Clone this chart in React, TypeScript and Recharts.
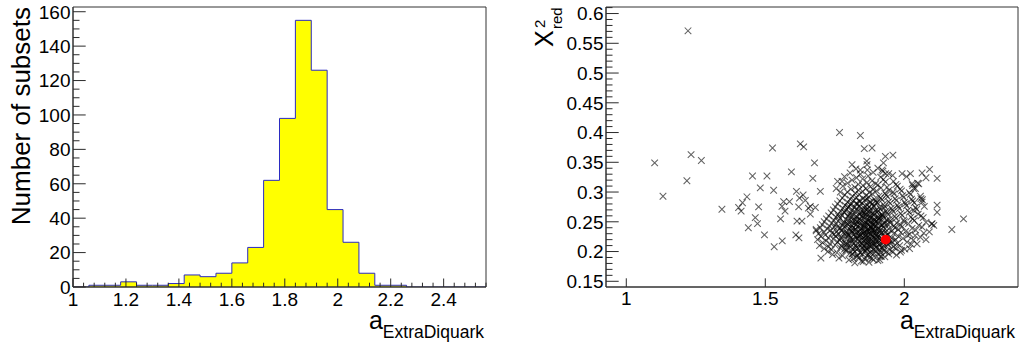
import React from 'react';
import {
  ComposedChart,
  Area,
  ScatterChart,
  Scatter,
  XAxis,
  YAxis,
  ReferenceArea,
} from 'recharts';

const FONT = '"Liberation Sans", Arial, Helvetica, sans-serif';

// histogram of the fitted parameter: lower bin edges + counts
const BIN_EDGES = [
  1.0, 1.06, 1.12, 1.18, 1.24, 1.3, 1.36, 1.42, 1.48, 1.54, 1.6, 1.66, 1.72,
  1.78, 1.84, 1.9, 1.96, 2.02, 2.08, 2.14, 2.2, 2.26, 2.32, 2.38, 2.44, 2.5,
];
const BIN_UPPER = 2.56;
const BIN_COUNTS = [
  0, 1, 1, 3, 1, 1, 2, 7, 6, 8, 14, 23, 62, 98, 155, 126, 45, 26, 8, 1, 1, 0,
  0, 0, 0, 0,
];

// scatter: [a_ExtraDiquark, chi2_red] per subset
const SPREAD_POINTS: [number, number][] = [
  [1.102, 0.349], [1.132, 0.293], [1.222, 0.571], [1.218, 0.319], [1.233, 0.363], [1.27, 0.353],
  [1.344, 0.271], [1.404, 0.274], [1.418, 0.282], [1.434, 0.292], [1.413, 0.268], [1.439, 0.24],
  [1.454, 0.327], [1.464, 0.257], [1.472, 0.247], [1.476, 0.275], [1.482, 0.307], [1.497, 0.228],
  [1.506, 0.327], [1.526, 0.374], [1.53, 0.303], [1.532, 0.208], [1.561, 0.218], [1.555, 0.255],
  [1.56, 0.276], [1.566, 0.284], [1.571, 0.268], [1.587, 0.284], [1.594, 0.334], [1.612, 0.301],
  [1.614, 0.251], [1.61, 0.228], [1.621, 0.223], [1.626, 0.381], [1.638, 0.376], [1.623, 0.29],
  [1.636, 0.295], [1.644, 0.286], [1.62, 0.275], [1.632, 0.251], [1.655, 0.273], [1.662, 0.276],
  [1.68, 0.274], [1.677, 0.349], [1.671, 0.323], [1.698, 0.301], [1.683, 0.237], [1.662, 0.263],
  [1.7, 0.189], [1.767, 0.4], [1.842, 0.395], [1.776, 0.318], [1.755, 0.306], [1.77, 0.3],
  [1.812, 0.346], [1.866, 0.346], [1.842, 0.337], [1.856, 0.373], [1.884, 0.374], [1.92, 0.337],
  [1.932, 0.36], [1.944, 0.331], [1.959, 0.362], [1.923, 0.335], [1.992, 0.331], [2.022, 0.331],
  [2.064, 0.332], [2.091, 0.338], [2.118, 0.323], [2.028, 0.314], [2.052, 0.314], [2.034, 0.306],
  [2.118, 0.278], [2.118, 0.266], [2.213, 0.255], [2.171, 0.237], [2.078, 0.22], [2.1, 0.247],
  [2.106, 0.244], [2.064, 0.283], [2.06, 0.289], [2.034, 0.269], [2.019, 0.205], [1.986, 0.199],
  [2.039, 0.227],
];

const CORE_POINTS: [number, number][] = [
  [1.822, 0.181], [1.845, 0.184], [1.873, 0.182], [1.905, 0.185],
  [1.765, 0.189], [1.801, 0.186], [1.836, 0.19], [1.858, 0.187], [1.884, 0.189], [1.912, 0.186], [1.93, 0.191],
  [1.742, 0.195], [1.778, 0.193], [1.812, 0.196], [1.829, 0.192], [1.851, 0.195], [1.866, 0.193], [1.892, 0.197],
  [1.918, 0.192], [1.944, 0.196], [1.972, 0.194],
  [1.725, 0.2], [1.758, 0.198], [1.789, 0.201], [1.804, 0.197], [1.823, 0.2], [1.842, 0.198], [1.861, 0.202],
  [1.877, 0.199], [1.898, 0.201], [1.915, 0.198], [1.936, 0.2], [1.958, 0.199], [1.99, 0.202],
  [1.712, 0.205], [1.738, 0.203], [1.77, 0.206], [1.785, 0.204], [1.797, 0.207], [1.815, 0.203], [1.833, 0.205],
  [1.848, 0.207], [1.864, 0.204], [1.871, 0.206], [1.889, 0.203], [1.903, 0.206], [1.922, 0.205], [1.948, 0.203],
  [1.967, 0.206], [2.002, 0.204],
  [1.695, 0.21], [1.728, 0.208], [1.751, 0.211], [1.774, 0.209], [1.792, 0.212], [1.808, 0.208], [1.826, 0.21],
  [1.839, 0.212], [1.855, 0.209], [1.868, 0.211], [1.88, 0.208], [1.894, 0.21], [1.909, 0.212], [1.927, 0.209],
  [1.941, 0.211], [1.961, 0.208], [1.983, 0.21], [2.025, 0.212],
  [1.706, 0.215], [1.733, 0.213], [1.76, 0.216], [1.779, 0.214], [1.796, 0.213], [1.811, 0.216], [1.82, 0.214],
  [1.837, 0.217], [1.85, 0.213], [1.862, 0.215], [1.876, 0.217], [1.887, 0.214], [1.899, 0.216], [1.912, 0.213],
  [1.925, 0.215], [1.952, 0.217], [1.975, 0.214], [2.01, 0.216], [2.046, 0.213],
  [1.688, 0.22], [1.719, 0.218], [1.745, 0.221], [1.768, 0.219], [1.787, 0.222], [1.802, 0.218], [1.818, 0.22],
  [1.831, 0.222], [1.845, 0.219], [1.858, 0.221], [1.869, 0.218], [1.882, 0.22], [1.895, 0.222], [1.906, 0.219],
  [1.92, 0.221], [1.946, 0.218], [1.969, 0.22], [1.995, 0.222], [2.032, 0.219],
  [1.7, 0.225], [1.727, 0.223], [1.752, 0.226], [1.772, 0.224], [1.79, 0.227], [1.806, 0.223], [1.823, 0.225],
  [1.834, 0.227], [1.848, 0.224], [1.86, 0.226], [1.873, 0.223], [1.885, 0.225], [1.898, 0.227], [1.911, 0.224],
  [1.93, 0.226], [1.955, 0.223], [1.98, 0.225], [2.012, 0.227], [2.058, 0.224],
  [1.692, 0.23], [1.716, 0.228], [1.74, 0.231], [1.763, 0.229], [1.781, 0.232], [1.799, 0.228], [1.814, 0.23],
  [1.828, 0.232], [1.841, 0.229], [1.853, 0.231], [1.866, 0.228], [1.878, 0.23], [1.89, 0.232], [1.903, 0.229],
  [1.917, 0.231], [1.938, 0.228], [1.962, 0.23], [1.988, 0.232], [2.02, 0.229], [2.07, 0.231],
  [1.683, 0.235], [1.71, 0.233], [1.735, 0.236], [1.757, 0.234], [1.776, 0.237], [1.793, 0.233], [1.809, 0.235],
  [1.825, 0.237], [1.838, 0.234], [1.851, 0.236], [1.863, 0.233], [1.874, 0.235], [1.886, 0.237], [1.899, 0.234],
  [1.913, 0.236], [1.933, 0.233], [1.957, 0.235], [1.978, 0.237], [2.005, 0.234], [2.041, 0.236], [2.09, 0.233],
  [1.698, 0.24], [1.724, 0.238], [1.748, 0.241], [1.769, 0.239], [1.786, 0.242], [1.803, 0.238], [1.817, 0.24],
  [1.832, 0.242], [1.846, 0.239], [1.857, 0.241], [1.87, 0.238], [1.881, 0.24], [1.893, 0.242], [1.907, 0.239],
  [1.924, 0.241], [1.944, 0.238], [1.966, 0.24], [1.993, 0.242], [2.028, 0.239], [2.064, 0.241],
  [1.705, 0.245], [1.731, 0.243], [1.755, 0.246], [1.778, 0.244], [1.795, 0.247], [1.812, 0.243], [1.827, 0.245],
  [1.84, 0.247], [1.854, 0.244], [1.867, 0.246], [1.879, 0.243], [1.891, 0.245], [1.904, 0.247], [1.921, 0.244],
  [1.94, 0.246], [1.962, 0.243], [1.985, 0.245], [2.015, 0.247], [2.052, 0.244], [2.098, 0.246],
  [1.712, 0.25], [1.739, 0.248], [1.762, 0.251], [1.783, 0.249], [1.8, 0.252], [1.816, 0.248], [1.83, 0.25],
  [1.844, 0.252], [1.859, 0.249], [1.872, 0.251], [1.884, 0.248], [1.897, 0.25], [1.91, 0.252], [1.928, 0.249],
  [1.949, 0.251], [1.973, 0.248], [2.0, 0.25], [2.036, 0.252], [2.078, 0.249],
  [1.72, 0.255], [1.746, 0.253], [1.77, 0.256], [1.79, 0.254], [1.808, 0.257], [1.824, 0.253], [1.839, 0.255],
  [1.853, 0.257], [1.866, 0.254], [1.88, 0.256], [1.893, 0.253], [1.908, 0.255], [1.925, 0.257], [1.946, 0.254],
  [1.97, 0.256], [1.998, 0.253], [2.03, 0.255], [2.068, 0.257],
  [1.728, 0.26], [1.754, 0.258], [1.776, 0.261], [1.797, 0.259], [1.814, 0.262], [1.83, 0.258], [1.846, 0.26],
  [1.861, 0.262], [1.876, 0.259], [1.89, 0.261], [1.905, 0.258], [1.922, 0.26], [1.942, 0.262], [1.966, 0.259],
  [1.992, 0.261], [2.024, 0.258], [2.06, 0.26],
  [1.737, 0.265], [1.762, 0.263], [1.785, 0.266], [1.805, 0.264], [1.822, 0.267], [1.838, 0.263], [1.855, 0.265],
  [1.87, 0.267], [1.885, 0.264], [1.901, 0.266], [1.918, 0.263], [1.938, 0.265], [1.96, 0.267], [1.987, 0.264],
  [2.018, 0.266], [2.05, 0.263],
  [1.745, 0.27], [1.771, 0.268], [1.793, 0.271], [1.812, 0.269], [1.829, 0.272], [1.847, 0.268], [1.863, 0.27],
  [1.88, 0.272], [1.897, 0.269], [1.914, 0.271], [1.934, 0.268], [1.957, 0.27], [1.982, 0.272], [2.012, 0.269],
  [2.045, 0.271],
  [1.752, 0.275], [1.779, 0.273], [1.801, 0.276], [1.82, 0.274], [1.838, 0.277], [1.856, 0.273], [1.873, 0.275],
  [1.891, 0.277], [1.91, 0.274], [1.93, 0.276], [1.953, 0.273], [1.979, 0.275], [2.008, 0.277], [2.04, 0.274],
  [2.072, 0.276],
  [1.76, 0.28], [1.787, 0.278], [1.809, 0.281], [1.829, 0.279], [1.848, 0.282], [1.866, 0.278], [1.884, 0.28],
  [1.903, 0.282], [1.925, 0.279], [1.949, 0.281], [1.975, 0.278], [2.004, 0.28], [2.036, 0.282],
  [1.768, 0.285], [1.796, 0.283], [1.818, 0.286], [1.84, 0.284], [1.86, 0.287], [1.879, 0.283], [1.898, 0.285],
  [1.92, 0.287], [1.944, 0.284], [1.971, 0.286], [2.001, 0.283], [2.03, 0.285], [2.065, 0.287],
  [1.777, 0.29], [1.805, 0.288], [1.828, 0.291], [1.851, 0.289], [1.872, 0.292], [1.892, 0.288], [1.915, 0.29],
  [1.94, 0.292], [1.967, 0.289], [1.997, 0.291], [2.026, 0.288],
  [1.786, 0.295], [1.814, 0.293], [1.838, 0.296], [1.862, 0.294], [1.885, 0.297], [1.909, 0.293], [1.935, 0.295],
  [1.963, 0.297], [1.994, 0.294], [2.022, 0.296], [2.058, 0.293],
  [1.795, 0.3], [1.824, 0.298], [1.85, 0.301], [1.874, 0.299], [1.9, 0.302], [1.93, 0.298], [1.96, 0.3],
  [1.99, 0.302], [2.018, 0.299],
  [1.808, 0.305], [1.836, 0.303], [1.862, 0.306], [1.888, 0.304], [1.916, 0.307], [1.945, 0.303], [1.985, 0.305],
  [2.04, 0.306],
  [1.779, 0.31], [1.822, 0.308], [1.851, 0.311], [1.878, 0.309], [1.905, 0.312], [1.938, 0.308], [1.975, 0.31],
  [2.03, 0.311],
  [1.796, 0.315], [1.835, 0.313], [1.866, 0.316], [1.897, 0.314], [1.932, 0.317], [1.97, 0.313], [2.048, 0.315],
  [1.76, 0.318], [1.812, 0.32], [1.85, 0.322], [1.884, 0.319], [1.925, 0.321], [1.961, 0.318],
  [1.785, 0.326], [1.828, 0.324], [1.87, 0.327], [1.915, 0.325], [1.958, 0.328], [2.008, 0.326], [2.078, 0.324],
  [1.805, 0.332], [1.842, 0.33], [1.888, 0.333], [1.933, 0.331],
  [1.826, 0.339], [1.867, 0.337], [1.905, 0.34],
  [1.865, 0.352], [1.925, 0.349],
];

// extra subsets inside the darkest part of the cloud
const DENSE_POINTS: [number, number][] = [
  [1.781, 0.247], [1.794, 0.231], [1.803, 0.262], [1.811, 0.219], [1.817, 0.253], [1.824, 0.238], [1.829, 0.207],
  [1.833, 0.268], [1.838, 0.226], [1.843, 0.244], [1.847, 0.213], [1.851, 0.259], [1.856, 0.233], [1.859, 0.201],
  [1.862, 0.249], [1.865, 0.222], [1.868, 0.271], [1.871, 0.238], [1.874, 0.211], [1.877, 0.256], [1.879, 0.229],
  [1.882, 0.197], [1.885, 0.245], [1.888, 0.218], [1.891, 0.264], [1.894, 0.236], [1.897, 0.207], [1.901, 0.251],
  [1.904, 0.224], [1.908, 0.241], [1.912, 0.203], [1.916, 0.258], [1.919, 0.231], [1.923, 0.215], [1.928, 0.247],
  [1.934, 0.226], [1.789, 0.214], [1.797, 0.274], [1.806, 0.241], [1.814, 0.196], [1.821, 0.229], [1.827, 0.281],
  [1.835, 0.252], [1.84, 0.198], [1.846, 0.265], [1.853, 0.242], [1.858, 0.277], [1.863, 0.206], [1.867, 0.233],
  [1.872, 0.262], [1.876, 0.19], [1.881, 0.251], [1.886, 0.227], [1.89, 0.275], [1.895, 0.213], [1.899, 0.243],
  [1.906, 0.268], [1.911, 0.232], [1.914, 0.192], [1.921, 0.262], [1.926, 0.201], [1.931, 0.238], [1.937, 0.253],
  [1.942, 0.212], [1.775, 0.235], [1.784, 0.266], [1.792, 0.203], [1.799, 0.245], [1.807, 0.278], [1.813, 0.234],
  [1.819, 0.207], [1.826, 0.259], [1.832, 0.221], [1.837, 0.285], [1.842, 0.236], [1.849, 0.205], [1.854, 0.268],
  [1.857, 0.247], [1.861, 0.227], [1.866, 0.288], [1.87, 0.216], [1.873, 0.245], [1.878, 0.268], [1.883, 0.21],
  [1.887, 0.236], [1.892, 0.255], [1.896, 0.229], [1.9, 0.282], [1.905, 0.196], [1.91, 0.257], [1.915, 0.219],
  [1.92, 0.245], [1.927, 0.273], [1.94, 0.229], [1.95, 0.248], [1.957, 0.216], [1.764, 0.259], [1.771, 0.222],
  [1.758, 0.241], [1.748, 0.229], [1.816, 0.188], [1.852, 0.183], [1.889, 0.186], [1.869, 0.195], [1.833, 0.193],
  [1.801, 0.227], [1.844, 0.228], [1.879, 0.24], [1.863, 0.258], [1.828, 0.246], [1.898, 0.22], [1.855, 0.218],
  [1.84, 0.276], [1.808, 0.251], [1.875, 0.283], [1.918, 0.207],
];

const BEST_FIT: [number, number] = [1.933, 0.22];

const HIST_X_DOMAIN: [number, number] = [1.0, 2.56];
const HIST_Y_DOMAIN: [number, number] = [0, 162.75];
const SCAT_X_DOMAIN: [number, number] = [0.927, 2.409];
const SCAT_Y_DOMAIN: [number, number] = [0.1404, 0.611];

const steps = (from: number, to: number, step: number) => {
  const out: number[] = [];
  for (let i = 0; from + i * step <= to + 1e-9; i++) out.push(+(from + i * step).toFixed(4));
  return out;
};
const onStep = (v: number, step: number) => Math.abs(v / step - Math.round(v / step)) < 1e-6;
const fmt = (v: number) => String(+v.toFixed(3));

const histData = [
  ...BIN_EDGES.map((x, i) => ({ x, n: BIN_COUNTS[i] })),
  { x: BIN_UPPER, n: 0 },
];
const toRows = (pts: [number, number][]) => pts.map(([a, chi]) => ({ a, chi }));
const bestData = [{ a: BEST_FIT[0], chi: BEST_FIT[1] }];

const TICK_COLOR = '#2a2a2a';
const LABEL_SIZE = 19;

const BottomTick = (p: any) => {
  const v = p.payload.value;
  const major = onStep(v, p.majorStep);
  return (
    <g>
      <line x1={p.x} x2={p.x} y1={p.y} y2={p.y - (major ? p.majorLen : p.minorLen)} stroke={TICK_COLOR} />
      {major && (
        <text x={p.x} y={p.y + p.labelDy} textAnchor="middle" fontSize={LABEL_SIZE} fontFamily={FONT} fill="#000">
          {fmt(v)}
        </text>
      )}
    </g>
  );
};

const LeftTick = (p: any) => {
  const v = p.payload.value;
  const major = onStep(v, p.majorStep);
  return (
    <g>
      <line x1={p.x} x2={p.x + (major ? 12.7 : 6.5)} y1={p.y} y2={p.y} stroke={TICK_COLOR} />
      {major && (
        <text x={p.x - 2.5} y={p.y + 6.8} textAnchor="end" fontSize={LABEL_SIZE} fontFamily={FONT} fill="#000">
          {fmt(v)}
        </text>
      )}
    </g>
  );
};

const CrossMark = (p: any) => {
  const { cx, cy } = p;
  const s = 3.3;
  return (
    <path
      d={`M${cx - s},${cy - s}L${cx + s},${cy + s}M${cx - s},${cy + s}L${cx + s},${cy - s}`}
      stroke="#000"
      strokeOpacity={0.62}
      strokeWidth={1.05}
      fill="none"
    />
  );
};

const RedDot = (p: any) => <circle cx={p.cx} cy={p.cy} r={4.9} fill="#ff0000" />;

const HistogramPanel = () => (
  <ComposedChart width={510} height={343} data={histData} margin={{ top: 7, right: 24, bottom: 0, left: 0 }}>
    <Area
      type="stepAfter"
      dataKey="n"
      stroke="#2b2bc0"
      strokeWidth={1}
      fill="#ffff00"
      fillOpacity={1}
      baseValue={0}
      dot={false}
      activeDot={false}
      isAnimationActive={false}
    />
    <ReferenceArea
      x1={HIST_X_DOMAIN[0]}
      x2={HIST_X_DOMAIN[1]}
      y1={HIST_Y_DOMAIN[0]}
      y2={HIST_Y_DOMAIN[1]}
      fill="none"
      stroke="#333"
      ifOverflow="visible"
    />
    <XAxis
      dataKey="x"
      type="number"
      domain={HIST_X_DOMAIN}
      allowDataOverflow
      ticks={steps(1.0, 2.56, 0.04)}
      interval={0}
      height={56}
      tickSize={0}
      tickMargin={0}
      tickLine={false}
      axisLine={{ stroke: '#333' }}
      tick={(p: any) => <BottomTick {...p} majorStep={0.2} majorLen={8.5} minorLen={4.3} labelDy={19} />}
    />
    <YAxis
      type="number"
      domain={HIST_Y_DOMAIN}
      allowDataOverflow
      ticks={steps(0, 160, 5)}
      interval={0}
      width={73}
      tickSize={0}
      tickMargin={0}
      tickLine={false}
      axisLine={{ stroke: '#333' }}
      tick={(p: any) => <LeftTick {...p} majorStep={20} />}
    />
  </ComposedChart>
);

const ScatterPanel = () => (
  <ScatterChart width={509} height={343} margin={{ top: 7, right: 1, bottom: 0, left: 0 }}>
    <ReferenceArea
      x1={SCAT_X_DOMAIN[0]}
      x2={SCAT_X_DOMAIN[1]}
      y1={SCAT_Y_DOMAIN[0]}
      y2={SCAT_Y_DOMAIN[1]}
      fill="none"
      stroke="#333"
      ifOverflow="visible"
    />
    <Scatter data={toRows(SPREAD_POINTS)} shape={CrossMark} isAnimationActive={false} />
    <Scatter data={toRows(CORE_POINTS)} shape={CrossMark} isAnimationActive={false} />
    <Scatter data={toRows(DENSE_POINTS)} shape={CrossMark} isAnimationActive={false} />
    <Scatter data={bestData} shape={RedDot} isAnimationActive={false} />
    <XAxis
      dataKey="a"
      type="number"
      domain={SCAT_X_DOMAIN}
      allowDataOverflow
      ticks={[1, 1.5, 2]}
      interval={0}
      height={56}
      tickSize={0}
      tickMargin={0}
      tickLine={false}
      axisLine={{ stroke: '#333' }}
      tick={(p: any) => <BottomTick {...p} majorStep={0.5} majorLen={8.7} minorLen={4.3} labelDy={18} />}
    />
    <YAxis
      dataKey="chi"
      type="number"
      domain={SCAT_Y_DOMAIN}
      allowDataOverflow
      ticks={steps(0.15, 0.61, 0.01)}
      interval={0}
      width={96}
      tickSize={0}
      tickMargin={0}
      tickLine={false}
      axisLine={{ stroke: '#333' }}
      tick={(p: any) => <LeftTick {...p} majorStep={0.05} />}
    />
  </ScatterChart>
);

export default function App() {
  return (
    <div style={{ position: 'absolute', left: 0, top: 0, width: 1019, height: 343, background: '#fff' }}>
      <div style={{ position: 'absolute', left: 0, top: 0 }}>
        <HistogramPanel />
      </div>
      <div style={{ position: 'absolute', left: 510, top: 0 }}>
        <ScatterPanel />
      </div>
      {/* axis titles */}
      <svg
        width={1019}
        height={343}
        style={{ position: 'absolute', left: 0, top: 0, pointerEvents: 'none' }}
        fontFamily={FONT}
      >
        <text transform="translate(30,7) rotate(-90)" textAnchor="end" fontSize={26} fill="#000">
          Number of subsets
        </text>
        <text x={484} y={329} textAnchor="end" fill="#000">
          <tspan fontSize={25}>a</tspan>
          <tspan fontSize={17.5} dy={9}>ExtraDiquark</tspan>
        </text>
        <text x={1015} y={329} textAnchor="end" fill="#000">
          <tspan fontSize={25}>a</tspan>
          <tspan fontSize={17.5} dy={9}>ExtraDiquark</tspan>
        </text>
        <text transform="translate(553,47) rotate(-90)" fill="#000">
          <tspan fontSize={25}>X</tspan>
          <tspan x={19} dy={-8} fontSize={15}>2</tspan>
          <tspan x={18} dy={17} fontSize={15}>red</tspan>
        </text>
      </svg>
    </div>
  );
}
